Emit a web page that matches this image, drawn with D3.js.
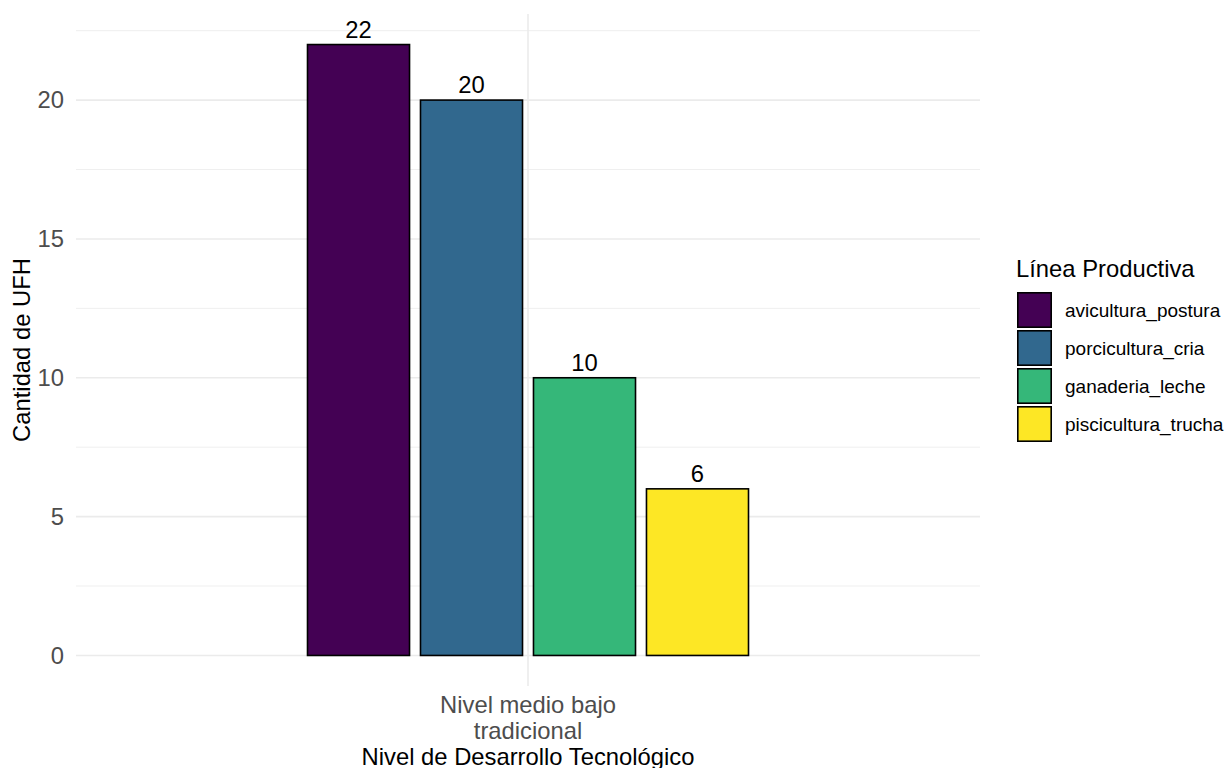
<!DOCTYPE html>
<html>
<head>
<meta charset="utf-8">
<script src="https://cdn.jsdelivr.net/npm/d3@7"></script>
<style>
  html, body { margin: 0; padding: 0; background: #ffffff; }
  svg { display: block; font-family: "Liberation Sans", Arial, sans-serif; }
</style>
</head>
<body>
<svg id="chart" width="1229" height="768"></svg>
<script>
const categories = ["Nivel medio bajo tradicional"];
const categoryLines = [["Nivel medio bajo", "tradicional"]];
const series = ["avicultura_postura", "porcicultura_cria", "ganaderia_leche", "piscicultura_trucha"];
const values = [22, 20, 10, 6];
const colors = ["#440154", "#31688E", "#35B779", "#FDE725"];
const yTicks = [0, 5, 10, 15, 20];
const yMinor = [2.5, 7.5, 12.5, 17.5, 22.5];
const xTitle = "Nivel de Desarrollo Tecnológico";
const yTitle = "Cantidad de UFH";
const legendTitle = "Línea Productiva";

const svg = d3.select("#chart");
const panel = { left: 76, right: 980, top: 14, bottom: 686 };
const fs = 23.8;

const yMax = d3.max(values);
const yPad = yMax * 0.05;
const y = d3.scaleLinear().domain([-yPad, yMax + yPad]).range([panel.bottom, panel.top]);

const x0 = d3.scalePoint().domain(categories).range([panel.left, panel.right]).padding(0.5);
const groupWidth = 441;
const x1 = d3.scaleBand().domain(series).range([-groupWidth / 2, groupWidth / 2]).paddingInner(0.097).paddingOuter(0);

// grid
const grid = svg.append("g");
grid.selectAll("line.minor").data(yMinor).join("line")
  .attr("x1", panel.left).attr("x2", panel.right)
  .attr("y1", d => y(d)).attr("y2", d => y(d))
  .attr("stroke", "#ebebeb").attr("stroke-width", 0.8);
grid.selectAll("line.major").data(yTicks).join("line")
  .attr("x1", panel.left).attr("x2", panel.right)
  .attr("y1", d => y(d)).attr("y2", d => y(d))
  .attr("stroke", "#ebebeb").attr("stroke-width", 1.6);
grid.selectAll("line.vmajor").data(categories).join("line")
  .attr("x1", d => x0(d)).attr("x2", d => x0(d))
  .attr("y1", panel.top).attr("y2", panel.bottom)
  .attr("stroke", "#ebebeb").attr("stroke-width", 1.6);

// y axis labels
const yAxis = svg.append("g").attr("transform", `translate(${panel.left - 12},0)`)
  .call(d3.axisLeft(y).tickValues(yTicks).tickSize(0).tickPadding(0));
yAxis.select(".domain").remove();
yAxis.selectAll("text").attr("font-size", fs).attr("fill", "#4d4d4d")
  .attr("font-family", "Liberation Sans, Arial, sans-serif");

// bars
const groups = svg.append("g").selectAll("g").data(categories).join("g")
  .attr("transform", d => `translate(${x0(d)},0)`);
groups.selectAll("rect").data(series.map((s, i) => ({ s, v: values[i], c: colors[i] }))).join("rect")
  .attr("x", d => x1(d.s)).attr("width", x1.bandwidth())
  .attr("y", d => y(d.v)).attr("height", d => y(0) - y(d.v))
  .attr("fill", d => d.c).attr("stroke", "#000").attr("stroke-width", 1.6);
groups.selectAll("text").data(series.map((s, i) => ({ s, v: values[i] }))).join("text")
  .attr("x", d => x1(d.s) + x1.bandwidth() / 2).attr("y", d => y(d.v) - 7)
  .attr("text-anchor", "middle").attr("font-size", fs).attr("fill", "#000")
  .text(d => d.v);

// x tick labels
categories.forEach((c, i) => {
  const t = svg.append("text").attr("text-anchor", "middle").attr("font-size", fs).attr("fill", "#4d4d4d");
  categoryLines[i].forEach((line, j) => {
    t.append("tspan").attr("x", x0(c)).attr("y", 713 + j * 26).text(line);
  });
});

// axis titles
svg.append("text").attr("x", (panel.left + panel.right) / 2).attr("y", 765)
  .attr("text-anchor", "middle").attr("font-size", fs).attr("fill", "#000").text(xTitle);
svg.append("text").attr("transform", `translate(29.5,${(panel.top + panel.bottom) / 2}) rotate(-90)`)
  .attr("text-anchor", "middle").attr("font-size", fs).attr("fill", "#000").text(yTitle);

// legend
const legend = svg.append("g").attr("transform", "translate(1017,0)");
legend.append("text").attr("x", -1).attr("y", 277).attr("font-size", fs).attr("fill", "#000").text(legendTitle);
const li = legend.selectAll("g.item").data(series).join("g")
  .attr("transform", (d, i) => `translate(0,${292 + i * 38})`);
li.append("rect").attr("x", 0.8).attr("y", 0.8).attr("width", 33.4).attr("height", 34.4)
  .attr("fill", (d, i) => colors[i]).attr("stroke", "#000").attr("stroke-width", 1.6);
li.append("text").attr("x", 48).attr("y", 24.5).attr("font-size", 19).attr("fill", "#000").text(d => d);
</script>
</body>
</html>
